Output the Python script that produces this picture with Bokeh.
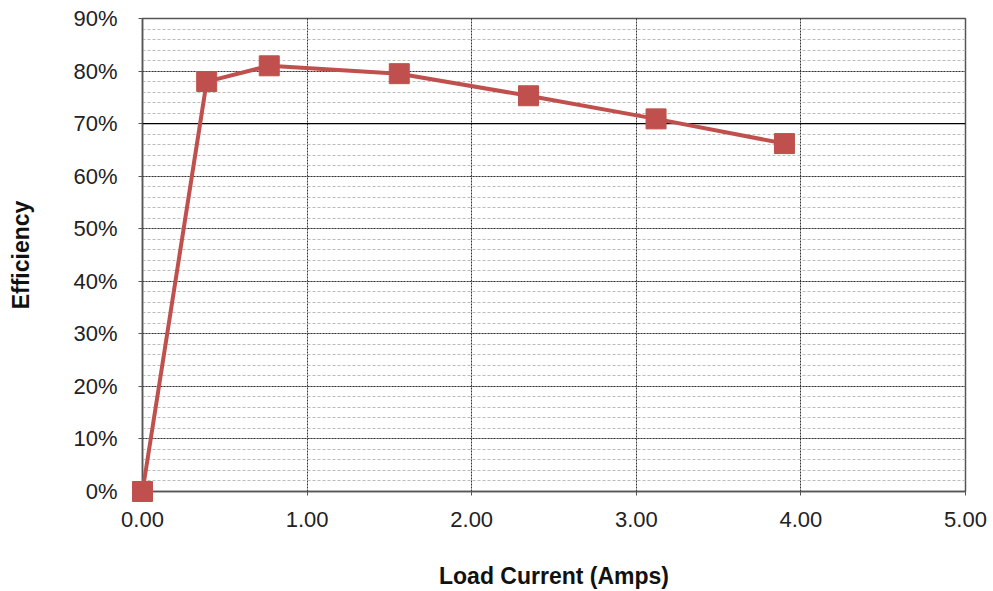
from bokeh.plotting import figure
from bokeh.models import Range1d, FixedTicker, NumeralTickFormatter, Span
from bokeh.embed import file_html
from bokeh.resources import INLINE

# Load current (A) vs. converter efficiency (fraction)
load_current = [0.00, 0.39, 0.77, 1.56, 2.345, 3.12, 3.90]
efficiency = [0.00, 0.78, 0.81, 0.795, 0.753, 0.709, 0.662]

x_ticks = [0, 1, 2, 3, 4, 5]
y_ticks = [i / 10 for i in range(10)]
y_minor = [i / 50 for i in range(46)]

FONT = "Liberation Sans"
RED = "#c0504d"

p = figure(width=993, height=591, output_backend="svg", toolbar_location=None,
           x_range=Range1d(0, 5), y_range=Range1d(0, 0.9),
           min_border_left=142, min_border_right=28,
           min_border_top=18, min_border_bottom=100)

p.outline_line_color = "#555555"
p.outline_line_width = 1.5
p.background_fill_color = "white"
p.border_fill_color = "white"

# axes
p.xaxis.ticker = FixedTicker(ticks=x_ticks)
p.yaxis.ticker = FixedTicker(ticks=y_ticks, minor_ticks=y_minor)
p.xaxis.formatter = NumeralTickFormatter(format="0.00")
p.yaxis.formatter = NumeralTickFormatter(format="0%")
for ax in (p.xaxis, p.yaxis):
    ax.axis_line_color = "#555555"
    ax.axis_line_width = 1.5
    ax.major_tick_in = 0
    ax.major_tick_out = 4
    ax.major_tick_line_color = "#555555"
    ax.minor_tick_line_color = None
    ax.major_label_text_font = FONT
    ax.major_label_text_font_size = "22px"
    ax.major_label_text_color = "#222222"
    ax.axis_label_text_font = FONT
    ax.axis_label_text_font_style = "bold"
    ax.axis_label_text_font_size = "23px"
    ax.axis_label_text_color = "#111111"

p.xaxis.axis_label = "Load Current (Amps)"
p.yaxis.axis_label = "Efficiency"
p.xaxis.major_label_standoff = 16
p.yaxis.major_label_standoff = 21
p.xaxis.axis_label_standoff = 33
p.yaxis.axis_label_standoff = 36

# grid
p.xgrid.grid_line_color = "#333333"
p.xgrid.grid_line_dash = "2 1"
p.xgrid.grid_line_width = 1
p.ygrid.grid_line_color = "#333333"
p.ygrid.grid_line_dash = "2 1"
p.ygrid.grid_line_width = 1
p.ygrid.minor_grid_line_color = "#bbbbbb"
p.ygrid.minor_grid_line_dash = "3 2"
p.ygrid.minor_grid_line_width = 1

# solid reference line at 70 %
p.add_layout(Span(location=0.7, dimension="width", line_color="black", line_width=1.2))

# series drawn above the frame so the marker at the origin is not cut off
p.line(load_current, efficiency, line_color=RED, line_width=4, level="overlay")
p.scatter(load_current, efficiency, marker="square", size=20,
          fill_color=RED, line_color=RED, level="overlay")

open("out.html", "w").write(file_html(p, INLINE))
